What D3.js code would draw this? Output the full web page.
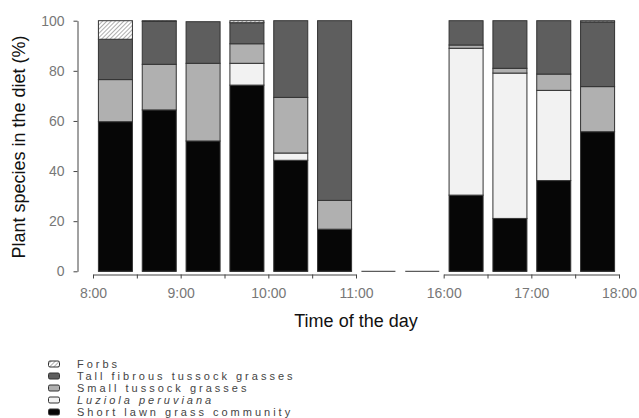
<!DOCTYPE html>
<html><head><meta charset="utf-8">
<script src="https://cdn.jsdelivr.net/npm/d3@7"></script>
<style>
html,body{margin:0;padding:0;background:#fff;}
svg{display:block;font-family:"Liberation Sans",Arial,sans-serif;}
</style></head>
<body>
<svg id="chart" width="639" height="418"></svg>
<script>
// ---- data ----
const slots = ["8:00","8:30","9:00","9:30","10:00","10:30","11:00","15:30","16:00","16:30","17:00","17:30"];
const tickLabels = ["8:00","9:00","10:00","11:00","16:00","17:00","18:00"];
const shortLawn   = [59.7, 64.4, 52.0, 74.3, 44.3, 16.8, 0, 0, 30.4, 21.1, 36.2, 55.7];
const luziola     = [0,    0,    0,    8.7,  2.9,  0,    0, 0, 58.6, 58.0, 36.0, 0];
const smallTussock= [16.8, 18.2, 31.0, 7.8,  22.2, 11.5, 0, 0, 1.3,  1.9,  6.5,  18.0];
const tallFibrous = [16.1, 17.1, 16.6, 8.4,  30.6, 71.7, 0, 0, 9.7,  19.0, 21.3, 25.8];
const forbs       = [7.4,  0.3,  0,    0.8,  0,    0,    0, 0, 0,    0,    0,    0.5];
const seriesNames = ["Short lawn grass community","Luziola peruviana","Small tussock grasses","Tall fibrous tussock grasses","Forbs"];
const yTicks = [0,20,40,60,80,100];

const keys = ["short","luziola","small","tall","forbs"];
const table = slots.map((s,i)=>({slot:s, short:shortLawn[i], luziola:luziola[i], small:smallTussock[i], tall:tallFibrous[i], forbs:forbs[i]}));

const svg = d3.select("#chart");
const defs = svg.append("defs");
const pat = defs.append("pattern").attr("id","hatch").attr("patternUnits","userSpaceOnUse")
  .attr("width",3).attr("height",3).attr("patternTransform","rotate(45)");
pat.append("rect").attr("width",3).attr("height",3).attr("fill","#fff");
pat.append("line").attr("x1",0).attr("y1",0).attr("x2",0).attr("y2",3).attr("stroke","#333").attr("stroke-width",0.8);

const fills = {short:"#060606", luziola:"#f2f2f2", small:"#b0b0b0", tall:"#5e5e5e", forbs:"url(#hatch)"};

const x0 = 93, x1 = 619;
const x = d3.scaleBand().domain(slots).range([x0,x1]).paddingInner(0.224).paddingOuter(0.112);
const y = d3.scaleLinear().domain([0,100]).range([271.3,20.7]);

const stack = d3.stack().keys(keys)(table);

// bars
const g = svg.append("g");
stack.forEach(layer=>{
  g.append("g").selectAll("rect").data(layer.filter(d=>d[1]-d[0]>0)).join("rect")
    .attr("x",d=>x(d.data.slot)+0.5)
    .attr("width",x.bandwidth())
    .attr("y",d=>y(d[1]))
    .attr("height",d=>y(d[0])-y(d[1]))
    .attr("fill",fills[layer.key])
    .attr("stroke","#333").attr("stroke-width",1);
});
// baseline strokes (visible for empty slots)
g.append("g").selectAll("line").data(slots).join("line")
  .attr("x1",d=>x(d)+0.5).attr("x2",d=>x(d)+x.bandwidth()+0.5)
  .attr("y1",y(0)).attr("y2",y(0))
  .attr("stroke","#333").attr("stroke-width",1);

// y axis
const yAxis = svg.append("g").attr("transform","translate(77.5,0)")
  .call(d3.axisLeft(y).tickValues(yTicks).tickSize(4).tickSizeOuter(0).tickPadding(9));
yAxis.selectAll("path,line").attr("stroke","#444");
yAxis.selectAll("text").attr("fill","#777").attr("font-size",14).attr("font-family","Liberation Sans, Arial, sans-serif");

// x axis (broken)
const bIdx = d3.scaleLinear().domain([0,12]).range([x0,x1]);
const labelAt = {0:tickLabels[0],2:tickLabels[1],4:tickLabels[2],6:tickLabels[3],8:tickLabels[4],10:tickLabels[5],12:tickLabels[6]};
function xAxisPart(a,b){
  const sc = d3.scaleLinear().domain([a,b]).range([bIdx(a),bIdx(b)]);
  const ax = svg.append("g").attr("transform","translate(0,274.5)")
    .call(d3.axisBottom(sc).tickValues(d3.range(a,b+1)).tickSize(4).tickSizeOuter(0).tickPadding(10)
      .tickFormat(d=>labelAt[d]||""));
  ax.selectAll("path,line").attr("stroke","#444");
  ax.selectAll("text").attr("fill","#777").attr("font-size",14).attr("font-family","Liberation Sans, Arial, sans-serif");
}
xAxisPart(0,6);
xAxisPart(8,12);

// titles
svg.append("text").attr("x",356).attr("y",327).attr("text-anchor","middle")
  .attr("font-size",18).attr("fill","#111").text("Time of the day");
svg.append("text").attr("transform","translate(25,147) rotate(-90)").attr("text-anchor","middle")
  .attr("font-size",18).attr("fill","#111").text("Plant species in the diet (%)");

// legend (top to bottom: Forbs ... Short lawn)
const legKeys = keys.slice().reverse();
const legNames = seriesNames.slice().reverse();
const leg = svg.append("g");
legKeys.forEach((k,i)=>{
  const cy = 364 + i*12;
  leg.append("rect").attr("x",48.5).attr("y",cy-3).attr("width",11).attr("height",6).attr("rx",1.5)
    .attr("fill",fills[k]).attr("stroke","#333").attr("stroke-width",1);
  leg.append("text").attr("x",77).attr("y",cy+4).attr("font-size",11).attr("letter-spacing",3)
    .attr("fill","#444").attr("font-style",k==="luziola"?"italic":"normal").text(legNames[i]);
});
</script>
</body></html>
